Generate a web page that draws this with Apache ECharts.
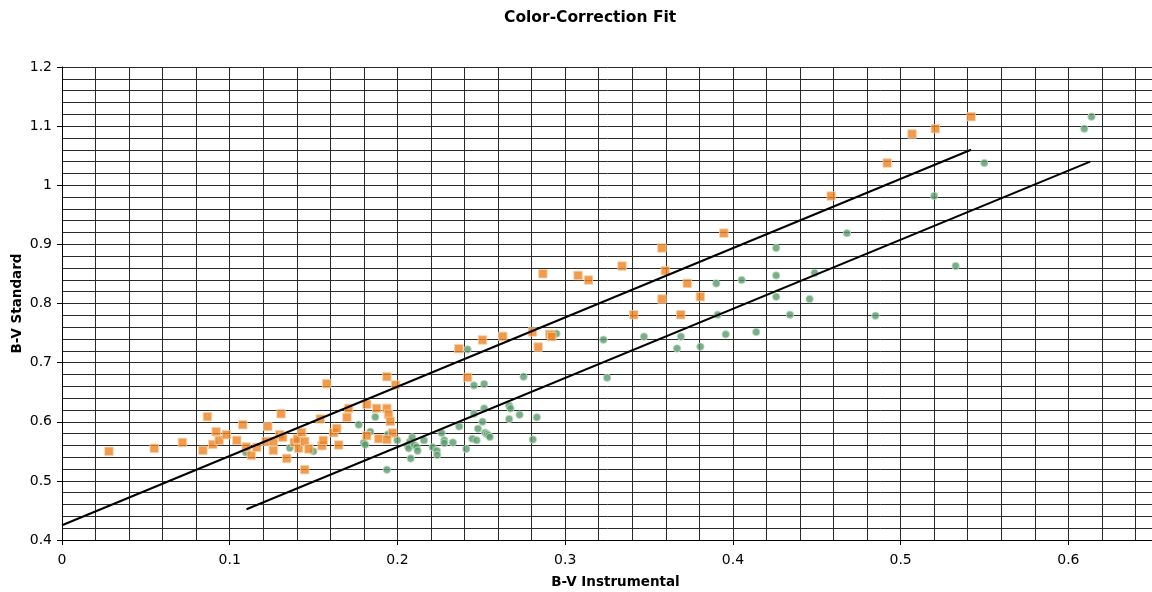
<!DOCTYPE html>
<html>
<head>
<meta charset="utf-8">
<script src="https://cdn.jsdelivr.net/npm/echarts@6/dist/echarts.min.js"></script>
<style>html,body{margin:0;padding:0;background:#fff}#c{width:1152px;height:592px}</style>
</head>
<body>
<div id="c"></div>
<script>
const titleText = 'Color-Correction Fit';
const xName = 'B-V Instrumental';
const yName = 'B-V Standard';

// Orange squares: [B-V instrumental (corrected), B-V standard]
const orangePoints = [
  [0.028,0.550],[0.055,0.555],[0.0718,0.565],[0.084,0.5516],[0.0867,0.6086],[0.0899,0.5617],
  [0.0919,0.5832],[0.0937,0.5685],[0.098,0.5781],[0.1042,0.5685],[0.1078,0.595],[0.1098,0.5573],
  [0.1129,0.5431],[0.1161,0.5567],[0.1227,0.592],[0.1217,0.5668],[0.126,0.5668],[0.126,0.5516],
  [0.1306,0.6136],[0.1298,0.5781],[0.1316,0.5736],[0.134,0.538],[0.1385,0.5651],[0.1403,0.5708],
  [0.1429,0.582],[0.1411,0.555],[0.1447,0.5668],[0.1471,0.554],[0.1447,0.519],
  [0.155,0.5595],[0.1558,0.5685],[0.154,0.6047],[0.1578,0.6644],[0.162,0.5815],[0.1638,0.5888],
  [0.165,0.5607],[0.1699,0.6074],[0.1709,0.6226],[0.1817,0.6294],[0.1876,0.6226],[0.1937,0.6226],
  [0.1947,0.6125],[0.1957,0.6006],[0.1971,0.581],[0.1817,0.5764],[0.1888,0.5713],[0.1937,0.570],
  [0.1937,0.6762],[0.1989,0.6622],[0.2366,0.7236],[0.2418,0.675],[0.2507,0.7383],
  [0.2628,0.7444],[0.2805,0.7518],[0.2908,0.7478],[0.292,0.744],[0.2839,0.7264],[0.2867,0.8504],
  [0.3077,0.8475],[0.3139,0.8397],[0.3339,0.8634],[0.3577,0.8939],[0.3597,0.8555],[0.3728,0.834],
  [0.3577,0.8076],[0.3806,0.8115],[0.3409,0.781],[0.3689,0.781],[0.3946,0.919],
  [0.4586,0.9818],[0.492,1.0376],[0.5068,1.0867],[0.5207,1.0956],[0.542,1.116]
];

// Green circles: [B-V instrumental, B-V standard]
const greenPoints = [
  [0.1096,0.548],[0.1358,0.5556],[0.1499,0.55],[0.1769,0.595],[0.1868,0.608],[0.1838,0.5832],
  [0.1943,0.5786],[0.1799,0.5646],[0.1808,0.5612],[0.1937,0.5189],[0.1999,0.5685],[0.2061,0.5595],
  [0.2074,0.5663],[0.2088,0.5736],[0.2067,0.555],[0.21,0.5607],[0.2114,0.5573],[0.212,0.551],
  [0.2079,0.538],[0.2158,0.5685],[0.221,0.5567],[0.2235,0.551],[0.2237,0.5438],[0.2263,0.581],
  [0.2279,0.5685],[0.2279,0.564],[0.233,0.565],[0.2368,0.592],[0.241,0.554],[0.2446,0.5713],
  [0.2472,0.5685],[0.248,0.5883],[0.2507,0.60],[0.2456,0.6136],[0.2517,0.6226],[0.2523,0.5815],
  [0.2533,0.579],[0.2543,0.577],[0.2551,0.5742],[0.2666,0.6272],[0.2674,0.6226],[0.2666,0.6047],
  [0.2728,0.6119],[0.2831,0.6074],[0.2807,0.570],[0.2418,0.7224],[0.2456,0.6615],[0.2517,0.6639],
  [0.2752,0.6762],[0.2948,0.749],[0.3228,0.7388],[0.325,0.6745],[0.347,0.744],[0.369,0.744],
  [0.3667,0.724],[0.3806,0.727],[0.3901,0.834],[0.3909,0.781],[0.3957,0.7478],[0.4052,0.8397],
  [0.4139,0.7518],[0.4258,0.894],[0.4258,0.8475],[0.4258,0.8115],[0.434,0.781],[0.4457,0.8076],
  [0.4487,0.8516],[0.468,0.919],[0.485,0.7794],[0.520,0.982],[0.5328,0.8634],[0.5499,1.0376],
  [0.6095,1.0956],[0.6138,1.116]
];

// Fit lines (end points)
const upperFit = [[0,0.425],[0.542,1.06]];
const lowerFit = [[0.11,0.452],[0.613,1.04]];

const FONT = '"DejaVu Sans", Verdana, sans-serif';
const chart = echarts.init(document.getElementById('c'), null, {renderer:'canvas'});
chart.setOption({
  animation: false,
  backgroundColor: '#fff',
  title: {
    text: titleText, left: 499, top: 5,
    textStyle: {fontFamily: FONT, fontSize: 15.5, fontWeight: 'bold', color: '#000'}
  },
  grid: {left: 62, top: 67, width: 1107, height: 473, containLabel: false, outerBoundsMode: 'none'},
  xAxis: [
    {
      type: 'value', min: 0, max: 0.66, interval: 0.02,
      axisLine: {show: false}, axisTick: {show: false}, axisLabel: {show: false},
      splitLine: {show: true, lineStyle: {color: '#2a2a2a', width: 1}}
    },
    {
      type: 'value', min: 0, max: 0.66, interval: 0.1, position: 'bottom',
      name: xName, nameLocation: 'middle', nameGap: 35, nameMoveOverlap: false,
      nameTextStyle: {fontFamily: FONT, fontSize: 13.5, fontWeight: 'bold', color: '#000'},
      axisLine: {show: true, onZero: false, lineStyle: {color: '#000', width: 1}},
      axisTick: {show: true, length: 5, lineStyle: {color: '#000'}},
      axisLabel: {fontFamily: FONT, fontSize: 14, color: '#000', margin: 13, showMaxLabel: false},
      splitLine: {show: false}
    }
  ],
  yAxis: {
    type: 'value', min: 0.4, max: 1.2, interval: 0.1,
    name: yName, nameLocation: 'middle', nameGap: 38, nameMoveOverlap: false,
    nameTextStyle: {fontFamily: FONT, fontSize: 13.5, fontWeight: 'bold', color: '#000'},
    axisLine: {show: true, onZero: false, lineStyle: {color: '#000', width: 1}},
    axisTick: {show: true, length: 5, lineStyle: {color: '#000'}},
    axisLabel: {fontFamily: FONT, fontSize: 14, color: '#000', margin: 10},
    splitLine: {show: true, lineStyle: {color: '#2a2a2a', width: 1}},
    minorTick: {show: false, splitNumber: 5},
    minorSplitLine: {show: true, lineStyle: {color: '#2a2a2a', width: 1}}
  },
  series: [
    {
      type: 'scatter', xAxisIndex: 1, data: greenPoints, symbol: 'circle', symbolSize: 7.5,
      itemStyle: {color: '#599a69', borderColor: '#c3ddc9', borderWidth: 1}, z: 3
    },
    {
      type: 'scatter', xAxisIndex: 1, data: orangePoints, symbol: 'rect', symbolSize: 8.5,
      itemStyle: {color: '#ee8220', borderColor: '#f8d2ac', borderWidth: 1}, z: 4
    },
    {
      type: 'line', xAxisIndex: 1, data: upperFit, symbol: 'none', z: 5,
      lineStyle: {color: '#000', width: 2}
    },
    {
      type: 'line', xAxisIndex: 1, data: lowerFit, symbol: 'none', z: 5,
      lineStyle: {color: '#000', width: 2}
    }
  ]
});
</script>
</body>
</html>
